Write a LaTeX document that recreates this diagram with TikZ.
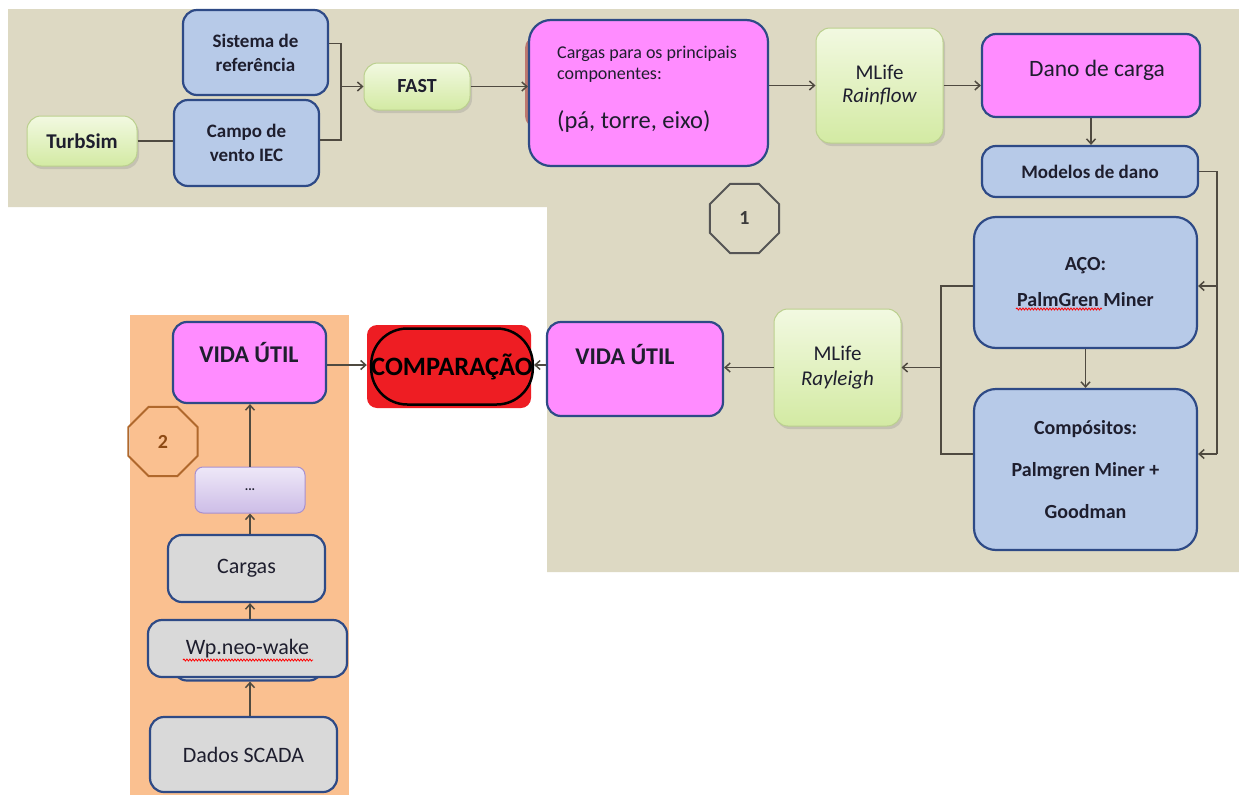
\documentclass[tikz,border=0pt]{standalone}
\usepackage{fontspec}
\setmainfont{Carlito}
\usetikzlibrary{arrows.meta,shapes.geometric,shadows,decorations.pathmorphing,calc}
\definecolor{beige}{HTML}{DDD9C3}
\definecolor{orng}{HTML}{FAC090}
\definecolor{bluef}{HTML}{B7CAE8}
\definecolor{bord}{HTML}{2E4A86}
\definecolor{pinkf}{HTML}{FF8CFF}
\definecolor{grayf}{HTML}{D9D9D9}
\definecolor{greent}{HTML}{F2F9E1}
\definecolor{greenbot}{HTML}{D3EAA3}
\definecolor{greenb}{HTML}{BBD08E}
\definecolor{lavt}{HTML}{EEE8F8}
\definecolor{lavb}{HTML}{CDBDE7}
\definecolor{lavd}{HTML}{A890CF}
\definecolor{redf}{HTML}{EE1D23}
\definecolor{lineg}{HTML}{4F4A40}
\definecolor{txt}{HTML}{1E1E2E}
\definecolor{octg}{HTML}{555555}
\definecolor{octo}{HTML}{B0682C}
\definecolor{octt}{HTML}{8E4A14}
\definecolor{shred}{HTML}{B5605A}
\newcommand{\myfs}[2]{\fontsize{#1}{#2}\selectfont}
\begin{document}
\begin{tikzpicture}[x=1pt,y=-1pt,
  box/.style={rectangle, rounded corners=14pt, draw=bord, line width=2.2pt, inner sep=2pt, align=center, text=txt},
  bluebox/.style={box, fill=bluef},
  pinkbox/.style={box, fill=pinkf},
  graybox/.style={box, fill=grayf},
  greenbox/.style={rectangle, rounded corners=14pt, draw=greenb, line width=1pt, top color=greent, bottom color=greenbot, drop shadow={opacity=0.25, shadow xshift=2pt, shadow yshift=-3pt}, align=center, text=txt},
  conn/.style={draw=lineg, line width=1.5pt},
  arr/.style={conn, -{Straight Barb[length=5pt,width=9pt]}},
  oct/.style={regular polygon, regular polygon sides=8, minimum size=75pt, inner sep=0pt, line width=2pt, font=\myfs{20}{24}\bfseries},
  squig/.style={draw=red, line width=0.8pt, decorate, decoration={snake, segment length=3pt, amplitude=1pt}},
  ]
\useasboundingbox (0,0) rectangle (1239,795);
\fill[white] (0,0) rectangle (1239,795);
\fill[beige] (8,9) -- (1239,9) -- (1239,572) -- (547,572) -- (547,207) -- (8,207) -- cycle;
\fill[orng] (130,315) rectangle (349,795);

% top row
\node[greenbox, minimum width=110pt, minimum height=50pt, font=\myfs{21}{24}\bfseries] (turb) at (82,141) {TurbSim};
\node[bluebox, minimum width=145pt, minimum height=85pt, font=\myfs{19}{24}\bfseries] (sis) at (255.5,52.5) {Sistema de\\referência};
\node[bluebox, minimum width=145pt, minimum height=86pt, font=\myfs{19}{24}\bfseries] (camp) at (246.5,143) {Campo de\\vento IEC};
\node[greenbox, minimum width=106pt, minimum height=47pt, font=\myfs{20}{24}\bfseries] (fast) at (417,86.5) {FAST};
\fill[shred, opacity=0.8, rounded corners=12pt] (525,36) rectangle (700,128);
\node[pinkbox, rounded corners=22pt, minimum width=239pt, minimum height=146pt] (carg) at (648.5,93) {};
\node[anchor=base west, inner sep=0pt, text=txt, font=\myfs{18}{20}] (ct1) at (557,58) {Cargas para os principais};
\node[anchor=base west, inner sep=0pt, text=txt, font=\myfs{18}{20}] (ct2) at (557,79) {componentes:};
\node[anchor=base west, inner sep=0pt, text=txt, font=\myfs{24.5}{28}] (ct3) at (557,128) {(pá, torre, eixo)};
\node[greenbox, minimum width=127pt, minimum height=115pt, font=\myfs{21}{23}] (rain) at (879.5,85.5) {MLife\\\textit{Rainflow}};
\node[pinkbox, minimum width=218pt, minimum height=83pt] (dano) at (1091,75.5) {};
\node[anchor=base, inner sep=0pt, text=txt, font=\myfs{23.5}{26}] (danot) at (1097,76) {Dano de carga};
\node[bluebox, minimum width=216pt, minimum height=51pt, font=\myfs{19}{24}\bfseries] (mod) at (1090,171.5) {Modelos de dano};
\node[oct, draw=octg, text=octg!70!black] (o1) at (744.5,218.5) {1};

% right column
\node[bluebox, rounded corners=22pt, minimum width=223pt, minimum height=131pt, font=\myfs{20}{24}\bfseries] (aco) at (1085.5,282.5) {AÇO:\\[12pt]PalmGren Miner};
\node[bluebox, rounded corners=22pt, minimum width=223pt, minimum height=161pt, font=\myfs{20}{24}\bfseries] (cmp) at (1085.5,469.5) {Compósitos:\\[18pt]Palmgren Miner +\\[18pt]Goodman};
\node[greenbox, minimum width=127pt, minimum height=117pt, font=\myfs{21}{25}] (ray) at (837.5,367.5) {MLife\\\textit{Rayleigh}};
\node[pinkbox, minimum width=176pt, minimum height=94pt] (vr) at (635,369) {};
\node[anchor=base, inner sep=0pt, text=txt, font=\myfs{24}{26}\bfseries] (vrt) at (625,364) {VIDA ÚTIL};

% comparison
\node[fill=redf, rounded corners=10pt, minimum width=164pt, minimum height=83pt] (compbg) at (449,366.5) {};
\node[draw=black, line width=2.5pt, fill=redf, rounded corners=36pt, inner sep=0pt, minimum width=160pt, minimum height=76pt, font=\myfs{26.5}{30}\bfseries, text=black] (comp) at (452,366.5) {COMPARAÇÃO};

% left column
\node[pinkbox, minimum width=153pt, minimum height=81pt] (vl) at (249.5,362.5) {};
\node[anchor=base, inner sep=0pt, text=txt, font=\myfs{24}{26}\bfseries] (vlt) at (249,362) {VIDA ÚTIL};
\node[oct, draw=octo, text=octt] (o2) at (163,441.5) {2};
\node[rectangle, rounded corners=8pt, draw=lavd, line width=1pt, top color=lavt, bottom color=lavb, minimum width=110pt, minimum height=46pt, font=\myfs{13}{14}\bfseries, text=txt] (dots) at (250,490) {...};
\node[graybox, minimum width=157pt, minimum height=67pt, font=\myfs{22}{26}] (cl) at (246.5,568.5) {Cargas};
\node[graybox, minimum width=150pt, minimum height=57pt] (wpback) at (248,652) {};
\node[graybox, minimum width=199pt, minimum height=57pt, font=\myfs{22}{26}] (wp) at (247.5,648.5) {Wp.neo-wake};
\node[graybox, minimum width=187pt, minimum height=75pt, font=\myfs{22}{26}] (dados) at (243.5,754.5) {Dados SCADA};

% connectors
\coordinate (j1) at (341,86.5);
\draw[conn] ([yshift=9pt]sis.east) -| (j1) |- ([yshift=3pt]camp.east);
\draw[arr] (j1) -- (fast.west);
\draw[conn] (turb.east) -- (turb.east -| camp.west);
\draw[arr] (fast.east) -- (fast.east -| carg.west);
\draw[arr] (rain.west -| carg.east) -- (rain.west);
\draw[arr] (rain.east) -- (rain.east -| dano.west);
\draw[arr] (dano.south) -- (dano.south |- mod.north);
\coordinate (rb) at (1217,454);
\draw[conn] (mod.east) -| (rb);
\draw[arr] (rb) -- (rb -| cmp.east);
\draw[arr] ([yshift=-3.5pt]aco.east -| rb) -- ([yshift=-3.5pt]aco.east);
\draw[arr] (aco.south) -- (aco.south |- cmp.north);
\coordinate (lb) at (941,367.5);
\draw[conn] ([yshift=-3.5pt]aco.west) -| (lb) |- ([yshift=15.5pt]cmp.west);
\draw[arr] (lb) -- (lb -| ray.east);
\draw[arr] (ray.west) -- (ray.west -| vr.east);
\draw[arr] ([yshift=4pt]vr.west) -- ([yshift=4pt]vr.west -| comp.east);
\draw[arr] ([yshift=-2.5pt]vl.east) -- ([yshift=-2.5pt]vl.east -| compbg.west);
\draw[arr] (dots.north) -- (dots.north |- vl.south);
\draw[arr] (dots.south |- cl.north) -- (dots.south);
\draw[arr] (dots.south |- wp.north) -- (dots.south |- cl.south);
\draw[arr] (dots.south |- dados.north) -- (dots.south |- wpback.south);

% spell-check underlines
\draw[squig] (1016,309) -- (1102,309);
\draw[squig] (183,660) -- (313,660);
\end{tikzpicture}
\end{document}
